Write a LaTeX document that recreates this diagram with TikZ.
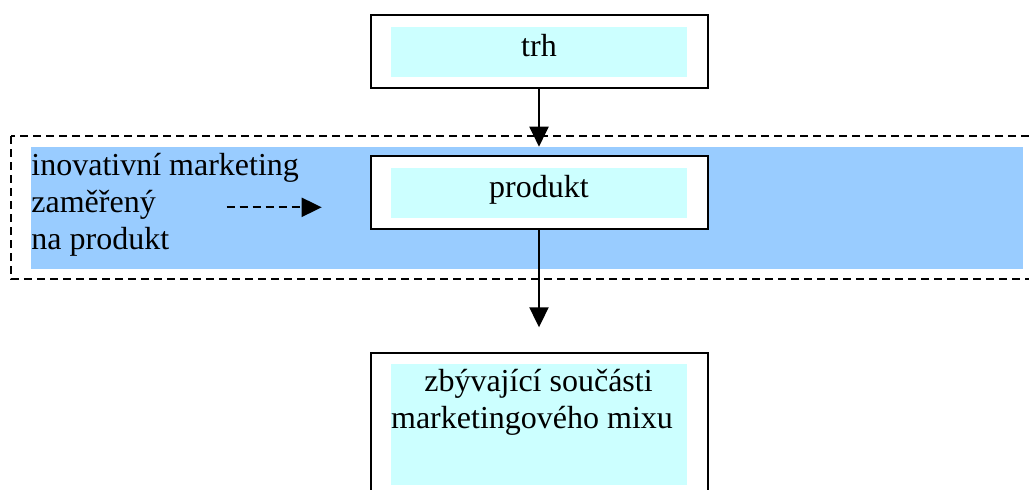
\documentclass[tikz,border=0pt]{standalone}
\usepackage{fontspec}
\setmainfont{Liberation Serif}
\usetikzlibrary{arrows.meta,calc}
\definecolor{band}{RGB}{153,204,255}
\definecolor{pale}{RGB}{204,255,255}
\tikzset{
  outerbox/.style={draw,fill=white,line width=1pt,minimum width=168.5pt,minimum height=36.2pt,inner sep=0pt},
  innerbox/.style={fill=pale,minimum width=148pt,minimum height=25pt,inner sep=0pt},
  arr/.style={line width=1pt,-{Triangle[length=10pt,width=9.5pt]}},
  dashline/.style={line width=1pt,dash pattern=on 4pt off 2.5pt},
  lbl/.style={font=\fontsize{16}{18.5}\selectfont,inner sep=0pt,anchor=base}
}
\newcommand{\boxlabel}[3]{\node[lbl] (#1-text) at ($(#1.north)+(0,#2)$) {#3};}
\begin{document}
\begin{tikzpicture}[x=0.5pt,y=-0.5pt]
\useasboundingbox (0,0) rectangle (1029,489);
\clip (0,0) rectangle (1029,489);
% frame and band
\draw[dashline] (11,136) rectangle (1040,279);
\fill[band] (31,147) rectangle (1022.7,268.7);
% boxes
\node[outerbox] (trh) at (539,51.3) {};
\node[innerbox] (trhin) at (539,51.5) {};
\boxlabel{trhin}{30}{trh}
\node[outerbox] (produkt) at (539,192.6) {};
\node[innerbox] (produktin) at (539,193.3) {};
\boxlabel{produktin}{29.4}{produkt}
\node[outerbox,minimum height=84pt,anchor=north] (mix) at (539,351.7) {};
\node[innerbox,minimum height=60.85pt,anchor=north] (mixin) at (539,363.3) {};
\node[lbl] (mix-a) at ($(mixin.north)+(-0.5,28.4)$) {zbývající součásti};
\node[lbl] (mix-b) at ($(mixin.north)+(-7,64.7)$) {marketingového mixu};
% left text
\node[lbl,anchor=base west] (inov-a) at (31,175) {inovativní marketing};
\node[lbl,anchor=base west] (inov-b) at (31,212.3) {zaměřený};
\node[lbl,anchor=base west] (inov-c) at (31,249) {na produkt};
\coordinate (dstart) at (226.7,207.3);
\coordinate (dend) at (321.7,207.3);
% arrows
\draw[arr,shorten >=4.35pt] (trh) -- (produkt);
\draw[arr,shorten >=12.2pt] (produkt) -- (mix);
\draw[arr,dashline] (dstart) -- (dend);
\end{tikzpicture}
\end{document}
